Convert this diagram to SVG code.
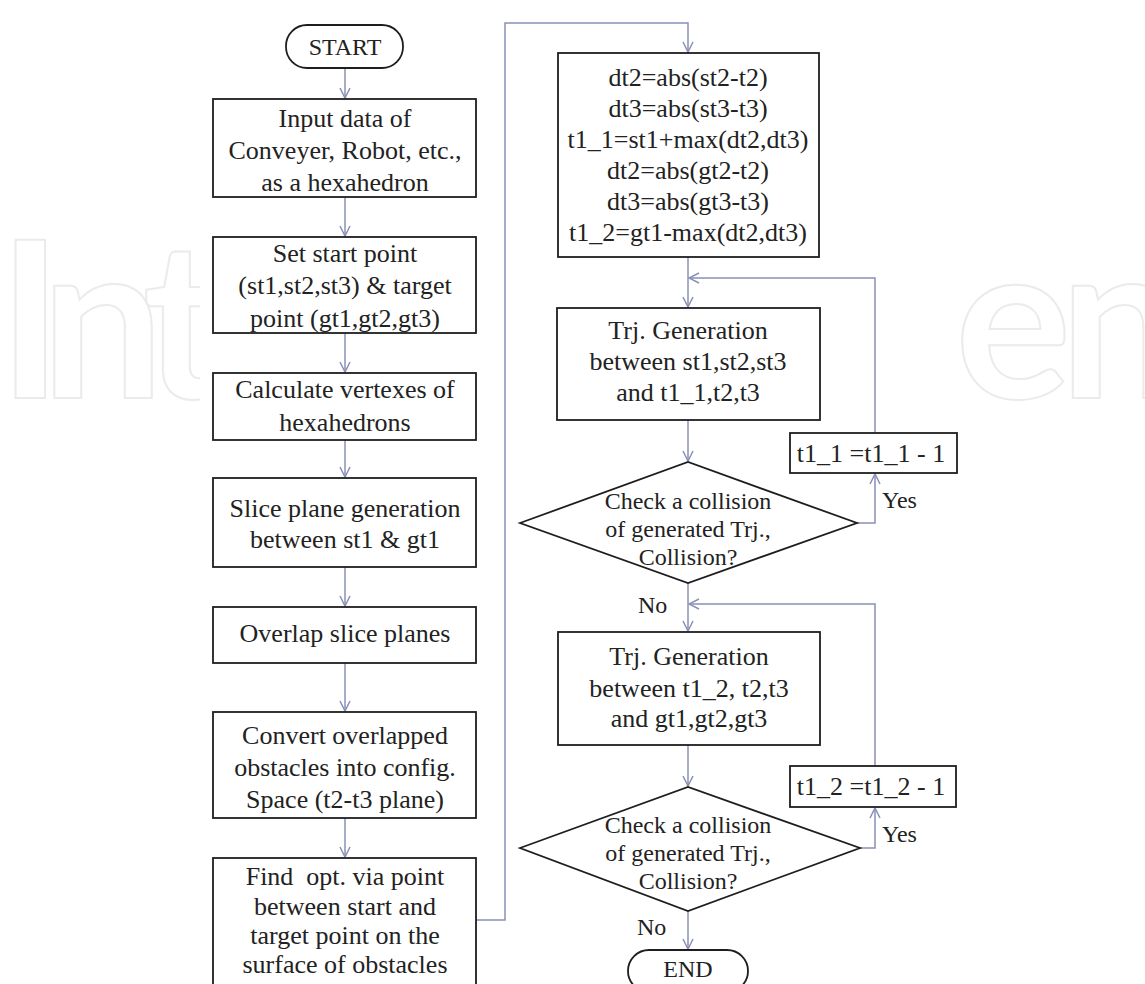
<svg xmlns="http://www.w3.org/2000/svg" width="1145" height="984" viewBox="0 0 1145 984">
<style>
.wm{font-family:Lato,"Open Sans",sans-serif;font-weight:bold;font-size:218px;fill:none;stroke:#ebebeb;stroke-width:2}
.box{fill:#fff;stroke:#1e1e1e;stroke-width:1.8}
.t{font-family:"Liberation Serif","Times New Roman",serif;font-size:26px;fill:#222;text-anchor:middle}
.d{font-family:"Liberation Serif","Times New Roman",serif;font-size:24px;fill:#222;text-anchor:middle}
.lbl{font-family:"Liberation Serif","Times New Roman",serif;font-size:24px;fill:#222}
.con{fill:none;stroke:#8a90b5;stroke-width:1.5;marker-end:url(#arr)}
</style>
<defs>
<marker id="arr" viewBox="0 0 12 12" refX="11" refY="6" markerWidth="12" markerHeight="12" markerUnits="userSpaceOnUse" orient="auto">
<path d="M1,1 L11,6 L1,11" fill="none" stroke="#8a90b5" stroke-width="1.5"/>
</marker>
</defs>
<rect x="0" y="0" width="1145" height="984" fill="#fff"/>
<g id="watermark">
<text class="wm" x="-2" y="398" letter-spacing="-20">Int</text>
<text class="wm" x="955" y="398" letter-spacing="-12">en</text>
<rect x="200" y="0" width="756" height="984" fill="#fff"/>
</g>
<g id="connectors">
<path class="con" d="M345,68 V98"/>
<path class="con" d="M345,197 V236"/>
<path class="con" d="M345,333 V372"/>
<path class="con" d="M345,440 V477"/>
<path class="con" d="M345,567 V606"/>
<path class="con" d="M345,663 V711"/>
<path class="con" d="M345,818 V857"/>
<path class="con" d="M476,920 H505 V23 H688 V52"/>
<path class="con" d="M688,257 V307"/>
<path class="con" d="M875,433 V278 H689"/>
<path class="con" d="M688,420 V461"/>
<path class="con" d="M857,523 H875 V474"/>
<path class="con" d="M688,583 V631"/>
<path class="con" d="M875,766 V604 H689"/>
<path class="con" d="M688,745 V786"/>
<path class="con" d="M860,848 H875 V808"/>
<path class="con" d="M688,911 V949"/>
</g>
<g id="start">
<rect class="box" x="286" y="25" width="117" height="43" rx="21"/>
<text class="d" x="345" y="55">START</text>
</g>
<g id="input">
<rect class="box" x="213" y="99" width="263" height="98"/>
<text class="t" x="345" y="127">Input data of</text>
<text class="t" x="345" y="159">Conveyer, Robot, etc.,</text>
<text class="t" x="345" y="191">as a hexahedron</text>
</g>
<g id="setpoint">
<rect class="box" x="213" y="237" width="263" height="96"/>
<text class="t" x="345" y="262">Set start point</text>
<text class="t" x="345" y="294">(st1,st2,st3) &amp; target</text>
<text class="t" x="345" y="327">point (gt1,gt2,gt3)</text>
</g>
<g id="vertexes">
<rect class="box" x="213" y="373" width="263" height="67"/>
<text class="t" x="345" y="398">Calculate vertexes of</text>
<text class="t" x="345" y="431">hexahedrons</text>
</g>
<g id="slice">
<rect class="box" x="213" y="478" width="263" height="89"/>
<text class="t" x="345" y="517">Slice plane generation</text>
<text class="t" x="345" y="548">between st1 &amp; gt1</text>
</g>
<g id="overlap">
<rect class="box" x="213" y="607" width="263" height="56"/>
<text class="t" x="345" y="642">Overlap slice planes</text>
</g>
<g id="convert">
<rect class="box" x="213" y="712" width="263" height="106"/>
<text class="t" x="345" y="744">Convert overlapped</text>
<text class="t" x="345" y="776">obstacles into config.</text>
<text class="t" x="345" y="808">Space (t2-t3 plane)</text>
</g>
<g id="findopt">
<rect class="box" x="213" y="858" width="263" height="135"/>
<text class="t" x="345" y="885" xml:space="preserve">Find  opt. via point</text>
<text class="t" x="345" y="915">between start and</text>
<text class="t" x="345" y="944">target point on the</text>
<text class="t" x="345" y="973">surface of obstacles</text>
</g>
<g id="calc">
<rect class="box" x="558" y="53" width="261" height="204"/>
<text class="t" x="688" y="86">dt2=abs(st2-t2)</text>
<text class="t" x="688" y="117">dt3=abs(st3-t3)</text>
<text class="t" x="688" y="148">t1_1=st1+max(dt2,dt3)</text>
<text class="t" x="688" y="179">dt2=abs(gt2-t2)</text>
<text class="t" x="688" y="210">dt3=abs(gt3-t3)</text>
<text class="t" x="688" y="241">t1_2=gt1-max(dt2,dt3)</text>
</g>
<g id="trj1">
<rect class="box" x="557" y="308" width="263" height="112"/>
<text class="t" x="688" y="339">Trj. Generation</text>
<text class="t" x="688" y="370">between st1,st2,st3</text>
<text class="t" x="688" y="401">and t1_1,t2,t3</text>
</g>
<g id="check1">
<polygon class="box" points="520,523 688,462 857,523 688,583"/>
<text class="d" x="688" y="509">Check a collision</text>
<text class="d" x="688" y="537">of generated Trj.,</text>
<text class="d" x="688" y="565">Collision?</text>
</g>
<g id="dec1">
<rect class="box" x="790" y="433" width="167" height="40"/>
<text class="t" x="871" y="462">t1_1 =t1_1 - 1</text>
</g>
<g id="trj2">
<rect class="box" x="558" y="632" width="262" height="113"/>
<text class="t" x="689" y="665">Trj. Generation</text>
<text class="t" x="689" y="697">between t1_2, t2,t3</text>
<text class="t" x="689" y="727">and gt1,gt2,gt3</text>
</g>
<g id="check2">
<polygon class="box" points="520,848 688,787 860,848 688,911"/>
<text class="d" x="688" y="833">Check a collision</text>
<text class="d" x="688" y="861">of generated Trj.,</text>
<text class="d" x="688" y="889">Collision?</text>
</g>
<g id="dec2">
<rect class="box" x="790" y="766" width="166" height="41"/>
<text class="t" x="871" y="795">t1_2 =t1_2 - 1</text>
</g>
<g id="end">
<rect class="box" x="628" y="950" width="120" height="42" rx="21"/>
<text class="d" x="688" y="977">END</text>
</g>
<g id="labels">
<text class="lbl" x="882" y="508">Yes</text>
<text class="lbl" x="638" y="613">No</text>
<text class="lbl" x="882" y="842">Yes</text>
<text class="lbl" x="637" y="935">No</text>
</g>
</svg>
